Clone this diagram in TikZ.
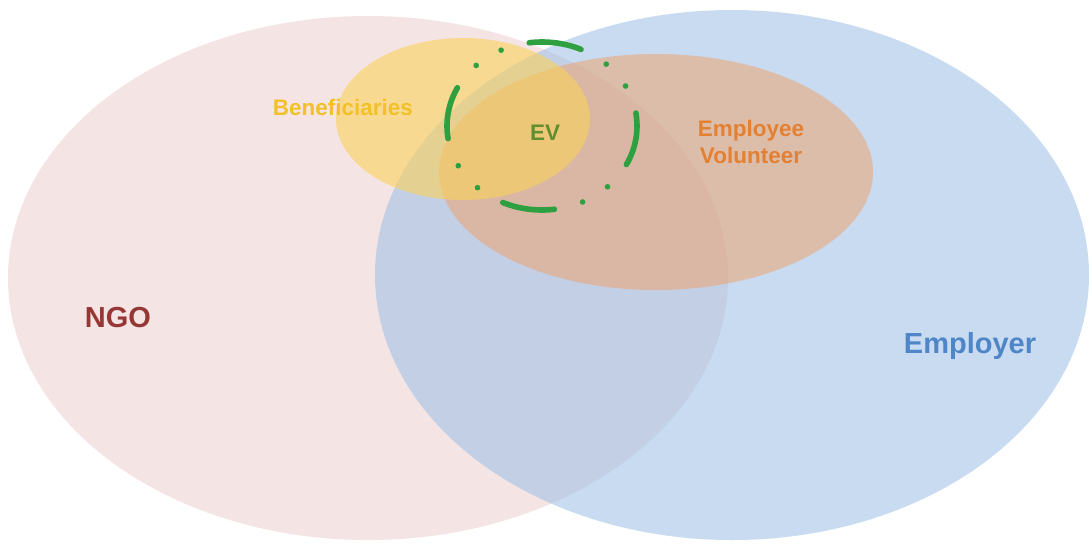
\documentclass[tikz,border=0pt]{standalone}
\usepackage{fontspec}
\setmainfont{Liberation Sans}
\definecolor{ngoPink}{RGB}{242,220,219}
\definecolor{empBlue}{RGB}{155,191,230}
\definecolor{volBrown}{RGB}{240,160,100}
\definecolor{benYellow}{RGB}{250,210,90}
\definecolor{evGreen}{RGB}{46,160,64}
\definecolor{ngoText}{RGB}{149,55,53}
\definecolor{empText}{RGB}{79,134,200}
\definecolor{benText}{RGB}{242,192,40}
\definecolor{volText}{RGB}{228,128,50}
\definecolor{evText}{RGB}{98,142,48}
\begin{document}
\begin{tikzpicture}[x=0.02cm,y=-0.02cm,
  big/.style={font=\bfseries\fontsize{16.5}{20}\selectfont},
  small/.style={font=\bfseries\fontsize{12.8}{15.4}\selectfont}]
\fill[white] (0,0) rectangle (1089,545);
\useasboundingbox (0,0) rectangle (1089,545);
\fill[ngoPink,fill opacity=.75] (368,278) ellipse [x radius=360,y radius=262];
\fill[empBlue,fill opacity=.55] (732,275) ellipse [x radius=357,y radius=265];
\fill[volBrown,fill opacity=.5] (656,172) ellipse [x radius=217,y radius=118];
\fill[benYellow,fill opacity=.6] (463,119) ellipse [x radius=127,y radius=81];
\draw[evGreen,line width=3.2pt,line cap=round,
  dash pattern=on 30pt off 16.7pt on 0pt off 16.7pt on 0pt off 16.6pt,dash phase=7pt]
  (542,126) ellipse [x radius=95,y radius=84];
\node[big,text=ngoText,anchor=base] (ngo) at (118,327) {NGO};
\node[big,text=empText,anchor=base] (emp) at (970,353) {Employer};
\node[small,text=benText,anchor=base] (ben) at (343,115) {Beneficiaries};
\node[small,text=volText,align=center] (vol) at (751,142) {Employee\\Volunteer};
\node[small,text=evText,anchor=base] (ev) at (545,140) {EV};
\end{tikzpicture}
\end{document}
